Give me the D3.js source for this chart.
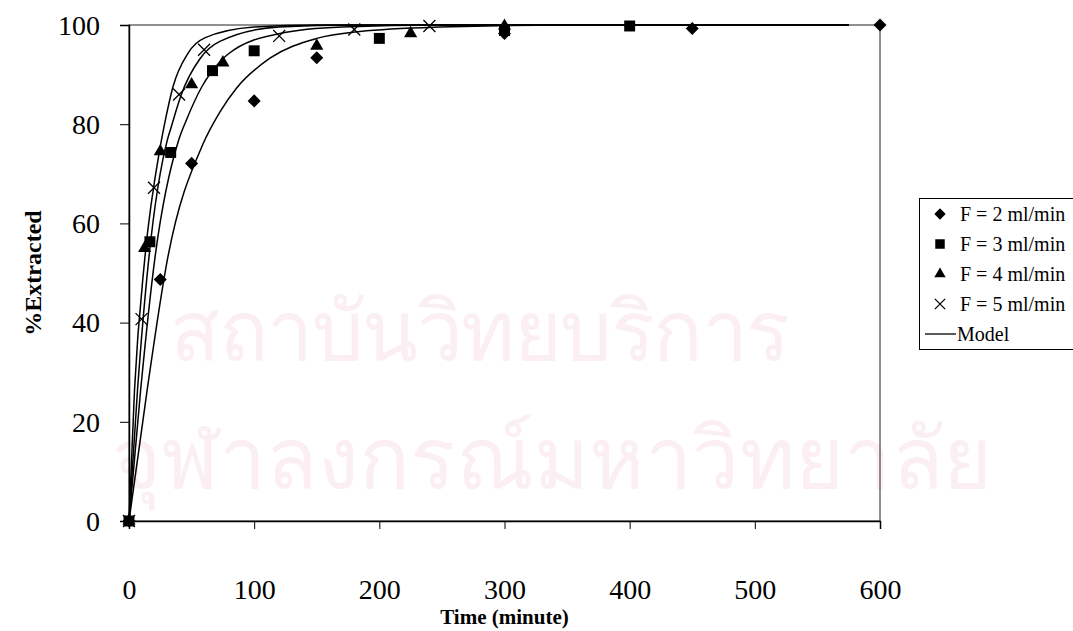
<!DOCTYPE html>
<html>
<head>
<meta charset="utf-8">
<script src="https://cdn.jsdelivr.net/npm/d3@7"></script>
<style>
  body { margin: 0; background: #fff; }
  svg { display: block; }
</style>
</head>
<body>
<svg width="1073" height="631"></svg>
<script>
let width = 1073;
let height = 631;

let margin = { top: 25, right: 193, bottom: 110, left: 129 };

// measured points, [time (min), % extracted]
let f2Data = [[0, 0], [25, 48.7], [50, 72.1], [100, 84.7], [150, 93.4], [300, 98.3], [450, 99.3], [600, 100]];
let f3Data = [[0, 0], [16.7, 56.3], [33.3, 74.3], [66.7, 90.8], [100, 94.8], [200, 97.3], [300, 98.9], [400, 99.8]];
let f4Data = [[0, 0], [12.5, 55], [25, 74.5], [50, 88], [75, 92.4], [150, 95.8], [225, 98.3], [300, 99.8]];
let f5Data = [[0, 0], [10, 40.7], [20, 67.2], [40, 86], [60, 95], [120, 97.8], [180, 99.1], [240, 99.8]];

// model curves
let modelF5 = [[0, 0], [4.4, 26.4], [12.5, 52.6], [24.5, 74.8], [28, 79.5], [35.2, 87.6], [47.1, 94.3], [60.5, 97.4], [100, 99.6], [150, 100], [575, 100]];
let modelF4 = [[0, 0], [6.8, 26.4], [15.7, 52.6], [30.6, 76.8], [33.8, 79.5], [41.8, 86], [56.7, 93.2], [72.6, 96.7], [120, 99.6], [180, 100], [575, 100]];
let modelF3 = [[0, 0], [9.3, 26.4], [20.5, 52.6], [39.7, 76.8], [45.8, 80.8], [58.3, 87.6], [72.7, 92.6], [79, 94.1], [120.6, 98.3], [170, 99.6], [250, 100], [575, 100]];
let modelF2 = [[0, 0], [14.5, 26.4], [30.6, 52.6], [59.1, 76], [72.7, 82.5], [86, 87.3], [112.6, 93.3], [150, 97.3], [184.5, 98.7], [248.5, 99.6], [350, 100], [575, 100]];

let xTicks = [0, 100, 200, 300, 400, 500, 600];
let yTicks = [0, 20, 40, 60, 80, 100];
let legendLabels = ["F = 2 ml/min", "F = 3 ml/min", "F = 4 ml/min", "F = 5 ml/min", "Model"];

let svg = d3.select("svg");
let serif = "'Liberation Serif', 'Times New Roman', serif";

// faint watermark of the scanned page
let wm = svg.append("g").style("fill", "#fbeff4").style("font-family", "'Noto Sans', 'DejaVu Sans', sans-serif");
wm.append("text").attr("x", 480).attr("y", 360).attr("text-anchor", "middle")
    .attr("textLength", 620).style("font-size", "82px").text("สถาบันวิทยบริการ");
wm.append("text").attr("x", 552).attr("y", 488).attr("text-anchor", "middle")
    .attr("textLength", 880).style("font-size", "84px").text("จุฬาลงกรณ์มหาวิทยาลัย");

let x = d3.scaleLinear().domain([0, 600]).range([margin.left, width - margin.right]);
let y = d3.scaleLinear().domain([0, 100]).range([height - margin.bottom, margin.top]);

// plot frame
svg.append("rect")
    .attr("x", x(0)).attr("y", y(100))
    .attr("width", x(600) - x(0)).attr("height", y(0) - y(100))
    .style("fill", "none").style("stroke", "#222").style("stroke-width", 1);

let xAxis = svg.append("g")
    .attr("transform", `translate(0,${y(0)})`)
    .call(d3.axisBottom(x).tickValues(xTicks).tickSize(8).tickPadding(50).tickFormat(d3.format("d")));

let yAxis = svg.append("g")
    .attr("transform", `translate(${x(0)},0)`)
    .call(d3.axisLeft(y).tickValues(yTicks).tickSize(9).tickPadding(20).tickFormat(d3.format("d")));

[xAxis, yAxis].forEach(function(ax) {
    ax.select(".domain").style("stroke", "#000").style("stroke-width", 1.5);
    ax.selectAll(".tick line").style("stroke", "#000").style("stroke-width", 1);
    ax.selectAll(".tick text")
        .style("font-family", serif)
        .style("font-size", "28px")
        .style("fill", "#000");
});
yAxis.selectAll(".tick text").attr("dy", "0.33em");

// axis titles
svg.append("text")
    .attr("x", (x(0) + x(600)) / 2).attr("y", 624)
    .attr("text-anchor", "middle")
    .style("font-family", serif).style("font-weight", "bold").style("font-size", "21px")
    .text("Time (minute)");

svg.append("text")
    .attr("transform", `translate(41,${(y(0) + y(100)) / 2}) rotate(-90)`)
    .attr("text-anchor", "middle")
    .style("font-family", serif).style("font-weight", "bold").style("font-size", "24px")
    .text("%Extracted");

// model lines
let line = d3.line()
    .x(d => x(d[0]))
    .y(d => y(d[1]))
    .curve(d3.curveMonotoneX);

svg.append("g")
    .selectAll("path")
    .data([modelF2, modelF3, modelF4, modelF5])
    .join("path")
    .attr("d", d => line(d))
    .style("fill", "none")
    .style("stroke", "#000")
    .style("stroke-width", 1.5);

// markers
let series = [
    { data: f2Data, type: d3.symbolSquare, size: 85, rotate: 45, filled: true },
    { data: f3Data, type: d3.symbolSquare, size: 120, rotate: 0, filled: true },
    { data: f4Data, type: d3.symbolTriangle, size: 75, rotate: 0, filled: true },
    { data: f5Data, type: d3.symbolTimes, size: 95, rotate: 0, filled: false }
];

function styleMarker(sel, s) {
    sel.attr("d", d3.symbol().type(s.type).size(s.size)())
        .style("fill", s.filled ? "#000" : "none")
        .style("stroke", "#000")
        .style("stroke-width", s.filled ? 0 : 1.3);
}

series.forEach(function(s) {
    svg.append("g")
        .selectAll("path")
        .data(s.data)
        .join("path")
        .attr("transform", d => `translate(${x(d[0])},${y(d[1])}) rotate(${s.rotate})`)
        .call(styleMarker, s);
});

// legend
let legend = svg.append("g").attr("transform", "translate(919,198)");
legend.append("rect")
    .attr("x", 0.5).attr("y", 0.5).attr("width", 200).attr("height", 151)
    .style("fill", "#fff").style("stroke", "#000").style("stroke-width", 1);

legendLabels.forEach(function(lbl, i) {
    let cy = 16 + i * 30;
    if (i < 4) {
        let s = series[i];
        legend.append("path")
            .attr("transform", `translate(21,${cy}) rotate(${s.rotate})`)
            .call(styleMarker, { type: s.type, size: s.size * 0.75, filled: s.filled });
    } else {
        legend.append("line")
            .attr("x1", 6).attr("x2", 37).attr("y1", cy).attr("y2", cy)
            .style("stroke", "#000").style("stroke-width", 1.3);
    }
    legend.append("text")
        .attr("x", i < 4 ? 41 : 38).attr("y", cy).attr("dy", "0.35em")
        .style("font-family", serif).style("font-size", "20px")
        .text(lbl);
});
</script>
</body>
</html>
